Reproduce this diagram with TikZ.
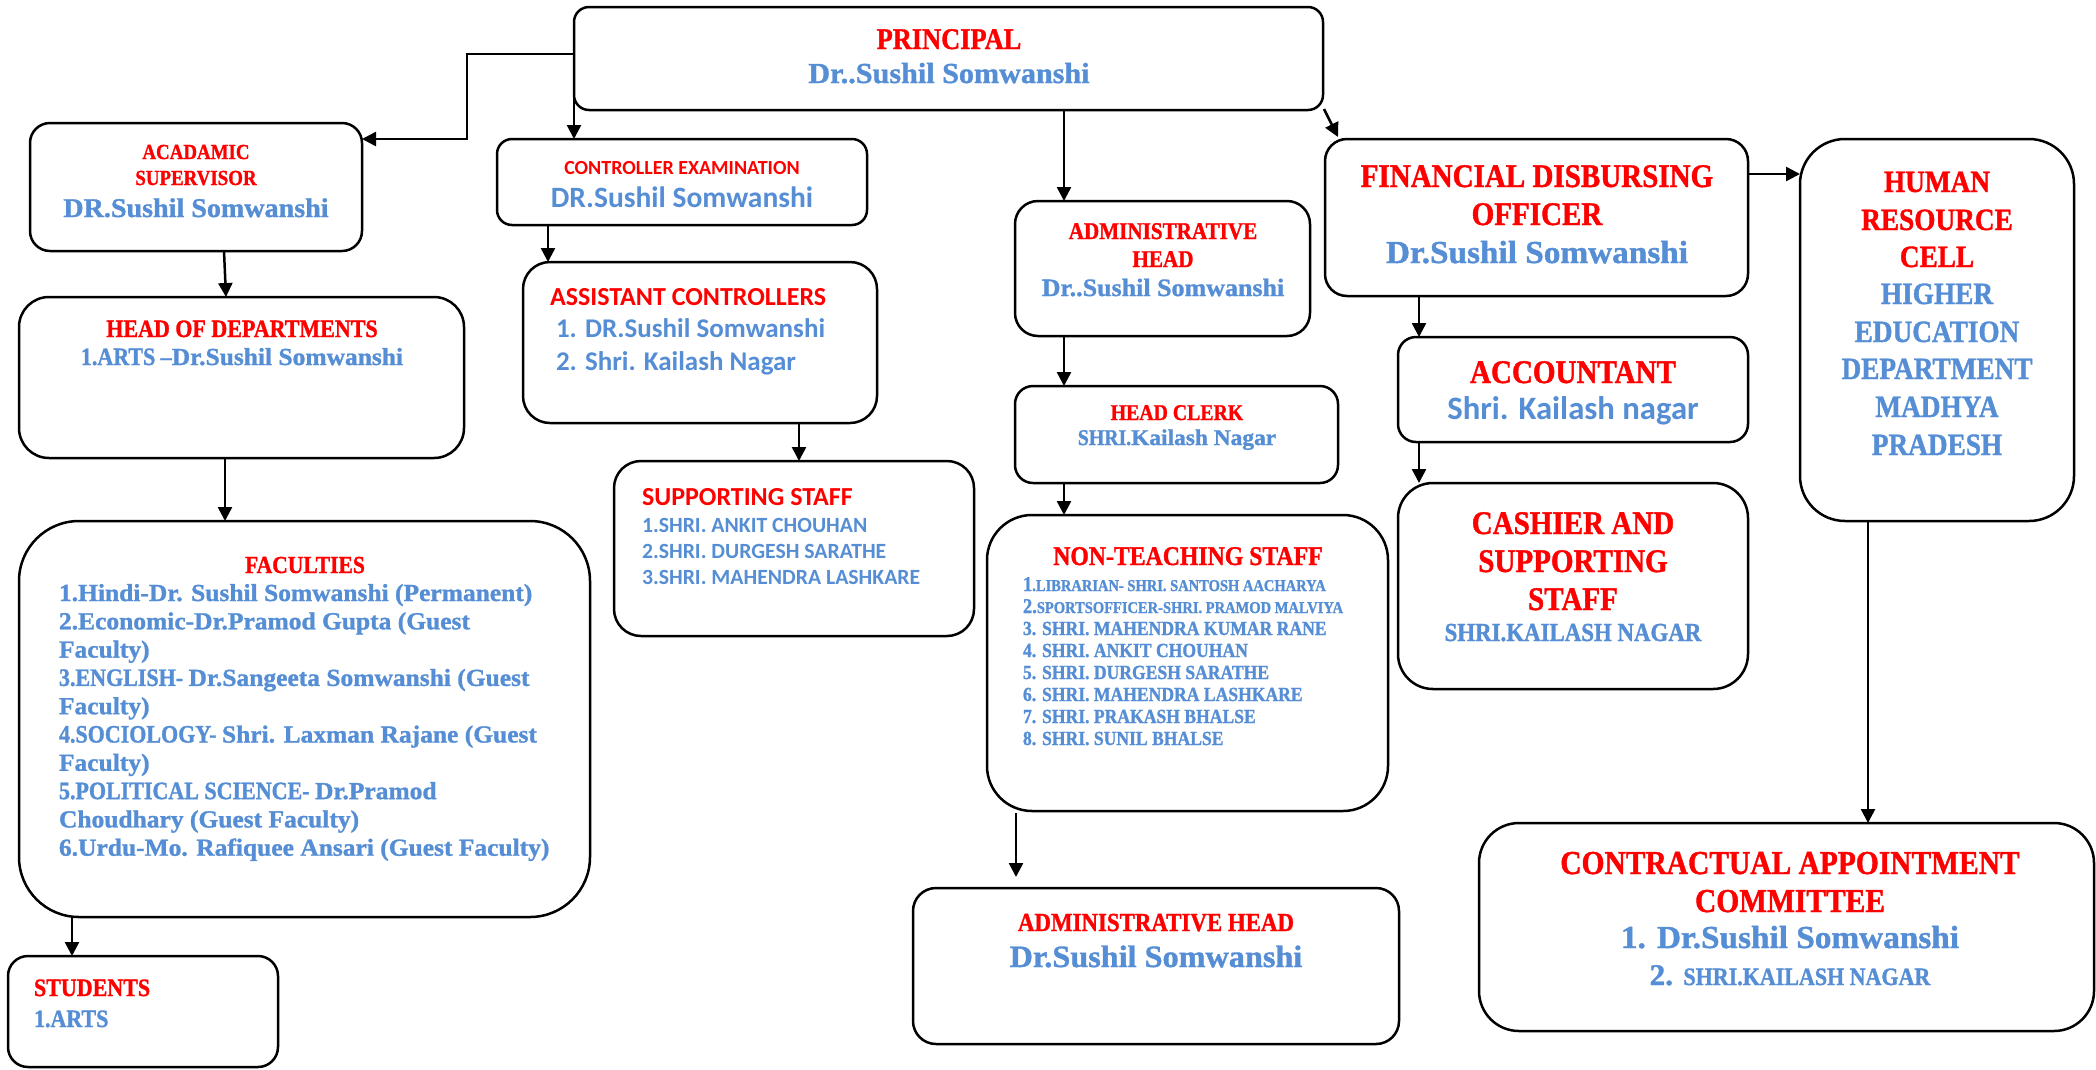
\documentclass[tikz,border=0pt]{standalone}
\usepackage{fontspec}
\setmainfont{Liberation Serif}
\newfontfamily\califam{Carlito}
\usetikzlibrary{arrows.meta,calc}
\definecolor{tred}{HTML}{FF0000}
\definecolor{tblue}{HTML}{558ED5}
\newcommand\fsz[1]{\fontsize{#1}{#1}\selectfont}
\newcommand\fCaps[1]{\rmfamily\fsz{#1}\bfseries\addfontfeature{FakeStretch=0.88,FakeBold=1.2}}
\newcommand\fMix[1]{\rmfamily\fsz{#1}\bfseries\addfontfeature{FakeStretch=1.04,FakeBold=1.2}}
\newcommand\fCal[1]{\califam\fsz{#1}\bfseries}
% box: name, x1, y1, x2, y2, radius
\newcommand\boxnode[6]{\node[box, rounded corners=#6pt, minimum width={#4pt-#2pt}, minimum height={#5pt-#3pt}, anchor=north west] (#1) at (#2,#3) {};}
% text line: style, name, x, baseline y, anchor, text
\newcommand\tline[6]{\node[#1, anchor=#5] (#2) at (#3,#4) {#6};}
\begin{document}
\begin{tikzpicture}[x=1pt,y=-1pt,
  box/.style={draw, line width=2.5pt, inner sep=0pt, outer sep=0pt},
  arr/.style={line width=2.5pt, -{Triangle[length=14pt,width=14pt]}},
  rt/.style={inner sep=0pt, outer sep=0pt, text=tred},
  bt/.style={inner sep=0pt, outer sep=0pt, text=tblue}]
\fill[white] (0,0) rectangle (2096,1069);
\useasboundingbox (0,0) rectangle (2096,1069);

% ---------- boxes ----------
\boxnode{prin}{574}{7}{1323}{110}{15}
\boxnode{acad}{30}{123}{362}{251}{20}
\boxnode{ctrl}{497}{139}{867}{225}{15}
\boxnode{assist}{523}{262}{877}{423}{27}
\boxnode{hod}{19}{297}{464}{458}{30}
\boxnode{fac}{19}{521}{590}{917}{60}
\boxnode{stud}{8}{956}{278}{1067}{20}
\boxnode{supp}{614}{461}{974}{636}{27}
\boxnode{admin}{1015}{201}{1310}{336}{23}
\boxnode{clerk}{1015}{386}{1338}{483}{18}
\boxnode{nonteach}{987}{515}{1388}{811}{45}
\boxnode{adminb}{913}{888}{1399}{1044}{23}
\boxnode{fin}{1325}{139}{1748}{296}{22}
\boxnode{acct}{1398}{337}{1748}{442}{18}
\boxnode{cash}{1398}{483}{1748}{689}{35}
\boxnode{hr}{1800}{139}{2074}{521}{45}
\boxnode{contr}{1479}{823}{2094}{1031}{40}

% ---------- connectors ----------
\draw[arr] (prin.west |- 0,54) -| (467,139) -- (acad.east |- 0,139);
\draw[arr] ($(prin.south west)+(0,-17)$) -- (prin.south west |- ctrl.north);
\draw[arr] (ctrl.south -| 548,0) -- (assist.north -| 548,0);
\draw[arr] (acad.south -| 224,0) -- (hod.north -| 226,0);
\draw[arr] (hod.south -| 225,0) -- (fac.north -| 225,0);
\draw[arr] (fac.south -| 72,0) -- (stud.north -| 72,0);
\draw[arr] (assist.south -| 799,0) -- (supp.north -| 799,0);
\draw[arr] (prin.south -| 1064,0) -- (admin.north -| 1064,0);
\draw[arr] (admin.south -| 1064,0) -- (clerk.north -| 1064,0);
\draw[arr] (clerk.south -| 1064,0) -- (nonteach.north -| 1064,0);
\draw[arr] ($(nonteach.south -| 1016,0)+(0,2)$) -- ($(adminb.north -| 1016,0)+(0,-11)$);
\draw[arr] ($(prin.south east)+(1,-1)$) -- ($(fin.north west)+(13,-2)$);
\draw[arr] (fin.east |- 0,174) -- (hr.west |- 0,174);
\draw[arr] (fin.south -| 1419,0) -- (acct.north -| 1419,0);
\draw[arr] (acct.south -| 1419,0) -- (cash.north -| 1419,0);
\draw[arr] (hr.south -| 1868,0) -- (contr.north -| 1868,0);

% ---------- texts ----------
% principal
\tline{rt}{p1}{949}{49}{base}{\fCaps{30}PRINCIPAL}
\tline{bt}{p2}{949}{83}{base}{\fMix{29}Dr..Sushil Somwanshi}
% academic supervisor
\tline{rt}{a1}{196}{159}{base}{\fCaps{21.5}ACADAMIC}
\tline{rt}{a2}{196}{185}{base}{\fCaps{21.5}SUPERVISOR}
\tline{bt}{a3}{196}{217}{base}{\fMix{27}DR.Sushil Somwanshi}
% controller examination
\tline{rt}{c1}{682}{174}{base}{\fCal{20}CONTROLLER EXAMINATION}
\tline{bt}{c2}{682}{207}{base}{\fCal{29.5}DR.Sushil Somwanshi}
% assistant controllers
\tline{rt}{s1}{550}{305}{base west}{\fCal{26}ASSISTANT CONTROLLERS}
\tline{bt}{s2}{556}{337}{base west}{\fCal{27}1. DR.Sushil Somwanshi}
\tline{bt}{s3}{556}{370}{base west}{\fCal{27}2. Shri. Kailash Nagar}
% head of departments
\tline{rt}{h1}{242}{337}{base}{\fCaps{25}HEAD OF DEPARTMENTS}
\tline{bt}{h2}{242}{365}{base}{{\fCaps{25}1.ARTS –}{\fMix{24.5}Dr.Sushil Somwanshi}}
% faculties
\tline{rt}{f0}{305}{573}{base}{\fCaps{24.5}FACULTIES}
\tline{bt}{f1}{59}{601}{base west}{\fMix{24.5}1.Hindi-Dr. Sushil Somwanshi (Permanent)}
\tline{bt}{f2}{59}{629.3}{base west}{\fMix{24.5}2.Economic-Dr.Pramod Gupta (Guest}
\tline{bt}{f3}{59}{657.6}{base west}{\fMix{24.5}Faculty)}
\tline{bt}{f4}{59}{685.9}{base west}{{\fCaps{25}3.ENGLISH- }{\fMix{24.5}Dr.Sangeeta Somwanshi (Guest}}
\tline{bt}{f5}{59}{714.2}{base west}{\fMix{24.5}Faculty)}
\tline{bt}{f6}{59}{742.5}{base west}{{\fCaps{25}4.SOCIOLOGY- }{\fMix{24.5}Shri. Laxman Rajane (Guest}}
\tline{bt}{f7}{59}{770.8}{base west}{\fMix{24.5}Faculty)}
\tline{bt}{f8}{59}{799.1}{base west}{{\fCaps{25}5.POLITICAL SCIENCE- }{\fMix{24.5}Dr.Pramod}}
\tline{bt}{f9}{59}{827.4}{base west}{\fMix{24.5}Choudhary (Guest Faculty)}
\tline{bt}{f10}{59}{855.7}{base west}{\fMix{24.5}6.Urdu-Mo. Rafiquee Ansari (Guest Faculty)}
% students
\tline{rt}{st1}{34}{996}{base west}{\fCaps{25}STUDENTS}
\tline{bt}{st2}{34}{1027}{base west}{\fCaps{25}1.ARTS}
% supporting staff
\tline{rt}{su0}{642}{505}{base west}{\fCal{26}SUPPORTING STAFF}
\tline{bt}{su1}{642}{532}{base west}{\fCal{21.7}1.SHRI. ANKIT CHOUHAN}
\tline{bt}{su2}{642}{558}{base west}{\fCal{21.7}2.SHRI. DURGESH SARATHE}
\tline{bt}{su3}{642}{584}{base west}{\fCal{21.7}3.SHRI. MAHENDRA LASHKARE}
% administrative head
\tline{rt}{ad1}{1163}{239}{base}{\fCaps{24}ADMINISTRATIVE}
\tline{rt}{ad2}{1163}{267}{base}{\fCaps{24}HEAD}
\tline{bt}{ad3}{1163}{296}{base}{\fMix{25}Dr..Sushil Somwanshi}
% head clerk
\tline{rt}{hc1}{1177}{420}{base}{\fCaps{22.5}HEAD CLERK}
\tline{bt}{hc2}{1177}{445}{base}{{\fCaps{22.5}SHRI.}{\fMix{22.5}Kailash Nagar}}
% non-teaching staff
\tline{rt}{n0}{1188}{565}{base}{\fCaps{27}NON-TEACHING STAFF}
\tline{bt}{n1}{1023}{591}{base west}{{\fCaps{21}1}{\fCaps{16.5}.LIBRARIAN- SHRI. SANTOSH AACHARYA}}
\tline{bt}{n2}{1023}{613}{base west}{{\fCaps{21}2.}{\fCaps{16.5}SPORTSOFFICER-SHRI. PRAMOD MALVIYA}}
\tline{bt}{n3}{1023}{635}{base west}{\fCaps{20}3. SHRI. MAHENDRA KUMAR RANE}
\tline{bt}{n4}{1023}{657}{base west}{\fCaps{20}4. SHRI. ANKIT CHOUHAN}
\tline{bt}{n5}{1023}{679}{base west}{\fCaps{20}5. SHRI. DURGESH SARATHE}
\tline{bt}{n6}{1023}{701}{base west}{\fCaps{20}6. SHRI. MAHENDRA LASHKARE}
\tline{bt}{n7}{1023}{723}{base west}{\fCaps{20}7. SHRI. PRAKASH BHALSE}
\tline{bt}{n8}{1023}{745}{base west}{\fCaps{20}8. SHRI. SUNIL BHALSE}
% administrative head (bottom)
\tline{rt}{ab1}{1156}{931}{base}{\fCaps{26}ADMINISTRATIVE HEAD}
\tline{bt}{ab2}{1156}{967}{base}{\fMix{31}Dr.Sushil Somwanshi}
% financial disbursing officer
\tline{rt}{fi1}{1537}{187}{base}{\fCaps{33}FINANCIAL DISBURSING}
\tline{rt}{fi2}{1537}{225}{base}{\fCaps{33}OFFICER}
\tline{bt}{fi3}{1537}{263}{base}{\fMix{32}Dr.Sushil Somwanshi}
% accountant
\tline{rt}{ac1}{1573}{383}{base}{\fCaps{33}ACCOUNTANT}
\tline{bt}{ac2}{1573}{419}{base}{\fCal{32.7}Shri. Kailash nagar}
% cashier
\tline{rt}{ca1}{1573}{534}{base}{\fCaps{33}CASHIER AND}
\tline{rt}{ca2}{1573}{572}{base}{\fCaps{33}SUPPORTING}
\tline{rt}{ca3}{1573}{610}{base}{\fCaps{33}STAFF}
\tline{bt}{ca4}{1573}{641}{base}{\fCaps{26}SHRI.KAILASH NAGAR}
% human resource cell
\tline{rt}{hr1}{1937}{192}{base}{\fCaps{31}HUMAN}
\tline{rt}{hr2}{1937}{230}{base}{\fCaps{31}RESOURCE}
\tline{rt}{hr3}{1937}{267}{base}{\fCaps{31}CELL}
\tline{bt}{hr4}{1937}{304}{base}{\fCaps{31}HIGHER}
\tline{bt}{hr5}{1937}{342}{base}{\fCaps{31}EDUCATION}
\tline{bt}{hr6}{1937}{379}{base}{\fCaps{31}DEPARTMENT}
\tline{bt}{hr7}{1937}{417}{base}{\fCaps{31}MADHYA}
\tline{bt}{hr8}{1937}{455}{base}{\fCaps{31}PRADESH}
% contractual appointment committee
\tline{rt}{co1}{1790}{874}{base}{\fCaps{33.5}CONTRACTUAL APPOINTMENT}
\tline{rt}{co2}{1790}{912}{base}{\fCaps{33.5}COMMITTEE}
\tline{bt}{co3}{1790}{948}{base}{\fMix{32}1. Dr.Sushil Somwanshi}
\tline{bt}{co4}{1790}{985}{base}{{\fMix{30}2. }{\fCaps{25}SHRI.KAILASH NAGAR}}
\end{tikzpicture}
\end{document}
